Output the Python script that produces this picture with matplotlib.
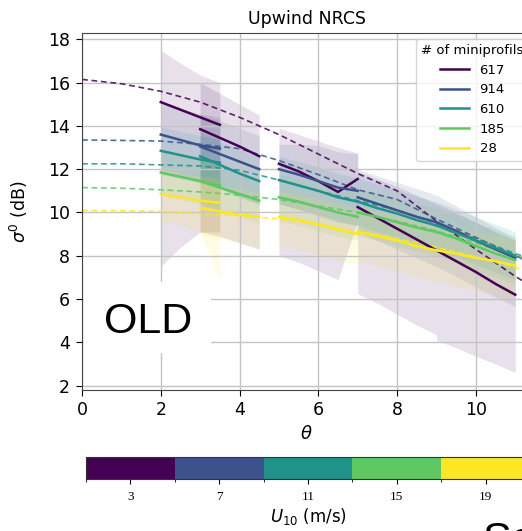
import numpy as np
import matplotlib
matplotlib.use('Agg')
import matplotlib.pyplot as plt
from matplotlib.colors import ListedColormap, BoundaryNorm
from matplotlib.cm import ScalarMappable
from matplotlib.patches import Rectangle

# wind speed classes (colorbar) and number of miniprofils (legend)
wind_bounds = [1, 5, 9, 13, 17, 21]
wind_ticks = [3, 7, 11, 15, 19]
n_profils = ['617', '914', '610', '185', '28']

# model curves (dashed)
theta_model = [0, 1, 2, 3, 4, 5, 6, 7, 8, 9, 10, 11, 11.4]
model_617 = [16.15, 15.95, 15.6, 15.1, 14.4, 13.6, 12.7, 11.8, 11.0, 9.6, 8.3, 7.05, 6.6]
model_914 = [13.35, 13.33, 13.3, 13.15, 12.95, 12.4, 11.75, 11.05, 10.6, 9.7, 8.85, 8.0, 7.7]
model_610 = [12.25, 12.25, 12.2, 12.15, 11.95, 11.5, 11.0, 10.55, 10.1, 9.5, 8.8, 8.1, 7.85]
model_185 = [11.15, 11.12, 11.05, 10.95, 10.8, 10.6, 10.3, 10.0, 9.6, 9.15, 8.6, 7.95, 7.7]
model_28 = [10.1, 10.08, 10.05, 9.95, 9.85, 9.7, 9.45, 9.15, 8.8, 8.4, 7.95, 7.45, 7.25]

# observed mean and spread per incidence segment
seg_theta = [[2.0, 2.5, 3.0, 3.5], [3.0, 3.5, 4.0, 4.5], [5.0, 5.5, 6.0, 6.5, 7.0],
             [7.0, 7.5, 8.0, 8.5, 9.0], [9.0, 9.5, 10.0, 10.5, 11.0]]

mean_617 = [[15.1, 14.75, 14.4, 14.05], [13.85, 13.45, 13.05, 12.6], [12.25, 11.9, 11.45, 10.95, 11.55],
            [10.25, 9.75, 9.25, 8.75, 8.25], [8.25, 7.75, 7.25, 6.7, 6.2]]
low_617 = [[7.5, 8.4, 9.1, 9.1], [9.1, 8.9, 8.6, 8.3], [8.0, 7.7, 7.3, 6.9, 9.6],
           [6.25, 5.8, 5.3, 4.8, 4.35], [4.1, 3.75, 3.35, 3.0, 2.6]]
high_617 = [[17.5, 16.9, 16.35, 16.0], [16.0, 15.5, 15.0, 14.5], [13.9, 13.6, 13.3, 13.0, 12.75],
            [11.9, 11.55, 11.2, 10.8, 10.4], [10.4, 10.0, 9.55, 9.1, 8.7]]

mean_914 = [[13.6, 13.35, 13.1, 12.95], [13.05, 12.7, 12.35, 12.0], [12.0, 11.75, 11.45, 11.15, 11.0],
            [10.7, 10.4, 10.1, 9.8, 9.55], [9.55, 9.15, 8.7, 8.3, 7.9]]
low_914 = [[12.0, 11.75, 11.5, 11.35], [11.45, 11.1, 10.75, 10.4], [10.4, 10.15, 9.85, 9.55, 9.4],
           [9.1, 8.7, 8.3, 7.9, 7.5], [7.5, 7.05, 6.55, 6.1, 5.65]]
high_914 = [[15.0, 14.8, 14.55, 14.4], [14.55, 14.25, 13.9, 13.55], [13.15, 13.15, 13.1, 12.8, 12.7],
            [12.0, 11.7, 11.4, 11.1, 10.8], [10.8, 10.3, 9.8, 9.3, 8.8]]

mean_610 = [[12.85, 12.65, 12.45, 12.3], [12.6, 12.2, 11.8, 11.45], [11.5, 11.25, 11.0, 10.7, 10.5],
            [10.5, 10.2, 9.95, 9.65, 9.4], [9.4, 9.05, 8.7, 8.35, 8.0]]
low_610 = [[11.75, 11.55, 11.35, 11.2], [11.5, 11.1, 10.7, 10.35], [10.4, 10.15, 9.9, 9.6, 9.4],
           [9.4, 9.1, 8.85, 8.55, 8.3], [8.3, 7.95, 7.6, 7.25, 6.9]]
high_610 = [[13.95, 13.75, 13.55, 13.4], [13.7, 13.3, 12.9, 12.55], [12.6, 12.35, 12.1, 11.8, 11.6],
            [11.6, 11.3, 11.05, 10.75, 10.5], [10.5, 10.15, 9.8, 9.45, 9.1]]

mean_185 = [[11.85, 11.65, 11.45, 11.25], [11.45, 11.15, 10.85, 10.55], [10.7, 10.5, 10.25, 10.0, 9.8],
            [10.0, 9.8, 9.55, 9.3, 9.1], [9.1, 8.8, 8.45, 8.1, 7.8]]
low_185 = [[10.8, 10.6, 10.4, 10.2], [10.4, 10.1, 9.8, 9.5], [9.6, 9.4, 9.15, 8.9, 8.7],
           [8.9, 8.7, 8.45, 8.2, 8.0], [8.0, 7.7, 7.35, 7.0, 6.7]]
high_185 = [[12.9, 12.7, 12.5, 12.3], [12.5, 12.2, 11.9, 11.6], [11.8, 11.6, 11.35, 11.1, 10.9],
            [11.1, 10.9, 10.65, 10.4, 10.2], [10.2, 9.9, 9.55, 9.2, 8.9]]

mean_28 = [[10.85, 10.7, 10.55, 10.45], [10.2, 10.05, 9.9, 9.8], [9.8, 9.65, 9.45, 9.2, 9.0],
           [9.1, 8.9, 8.7, 8.45, 8.25], [8.25, 8.1, 7.9, 7.75, 7.55]]
low_28 = [[9.6, 9.4, 9.1, 6.9], [9.0, 8.8, 8.6, 8.4], [8.5, 8.3, 8.05, 7.8, 7.6],
          [7.8, 7.55, 7.3, 7.05, 6.8], [6.8, 6.6, 6.4, 6.2, 6.0]]
high_28 = [[12.0, 11.85, 11.7, 11.6], [11.4, 11.25, 11.1, 11.0], [11.0, 10.85, 10.65, 10.4, 10.2],
           [10.3, 10.1, 9.9, 9.65, 9.45], [9.45, 9.3, 9.1, 8.95, 8.75]]

models = [model_617, model_914, model_610, model_185, model_28]
means = [mean_617, mean_914, mean_610, mean_185, mean_28]
lows = [low_617, low_914, low_610, low_185, low_28]
highs = [high_617, high_914, high_610, high_185, high_28]

colors = plt.cm.viridis(np.linspace(0, 1, 5))

fig = plt.figure(figsize=(5.22, 5.31), dpi=100)
# axes runs past the right edge of the picture (cropped screenshot)
ax = fig.add_axes([82 / 522, 1 - 389.5 / 531, 449 / 522, (389.5 - 33.3) / 531])

for c, lo_b, hi_b in zip(colors, lows, highs):
    for th, lo, hi in zip(seg_theta, lo_b, hi_b):
        ax.fill_between(th, lo, hi, color=c, alpha=0.12, lw=0)

for c, mod in zip(colors, models):
    ax.plot(theta_model, mod, color=c, lw=1.2, ls=(0, (3.5, 2.2)), alpha=0.85)

handles = []
for c, m_b in zip(colors, means):
    for k, (th, m) in enumerate(zip(seg_theta, m_b)):
        line, = ax.plot(th, m, color=c, lw=1.8)
        if k == 0:
            handles.append(line)

ax.set_xlim(0, 11.4)
ax.set_ylim(1.82, 18.28)
ax.set_xticks([0, 2, 4, 6, 8, 10])
ax.set_yticks([2, 4, 6, 8, 10, 12, 14, 16, 18])
ax.grid(True, color='#c4c4c4', lw=1.0)
ax.tick_params(labelsize=12.5, length=4.5, pad=4)
for sp in ax.spines.values():
    sp.set_color('#444444')
ax.set_title('Upwind NRCS', fontsize=12.5, pad=7)
ax.set_xlabel(r'$\theta$', fontsize=13, labelpad=4)
ax.set_ylabel(r'$\sigma^0$ (dB)', fontsize=12.5)
ax.yaxis.set_label_coords(-0.115, 0.5)

ax.legend(handles, n_profils, title='# of miniprofils', loc='upper left',
          bbox_to_anchor=((416 - 82) / 449, (389.5 - 39) / 356.2), borderaxespad=0,
          fontsize=9.5, title_fontsize=9.5, handlelength=2.2)

# discrete wind speed colorbar
cax = fig.add_axes([86 / 522, (531 - 479) / 531, 444 / 522, 22.3 / 531])
cmap = ListedColormap(colors)
norm = BoundaryNorm(wind_bounds, cmap.N)
cb = fig.colorbar(ScalarMappable(norm=norm, cmap=cmap), cax=cax, orientation='horizontal', ticks=wind_ticks)
cb.ax.tick_params(labelsize=9.5, length=3.5, pad=5)
for t in cb.ax.get_xticklabels():
    t.set_family('Liberation Serif')
cb.set_label(r'$U_{10}$ (m/s)', fontsize=12, labelpad=2)
cb.outline.set_edgecolor('#333333')

# overlay annotations from the screenshot
fig.patches.append(Rectangle((84 / 522, (531 - 353) / 531), 127 / 522, 71 / 531,
                             transform=fig.transFigure, facecolor='white', edgecolor='none', zorder=5))
fig.text(148.5 / 522, (531 - 333.3) / 531, 'OLD', fontsize=31, family='Liberation Sans',
         ha='center', va='baseline', zorder=6)
fig.text(481.7 / 522, (531 - 551.6) / 531, 'Se', fontsize=31, family='Liberation Sans',
         ha='left', va='baseline', zorder=6)

fig.savefig('out.png', dpi=100)
